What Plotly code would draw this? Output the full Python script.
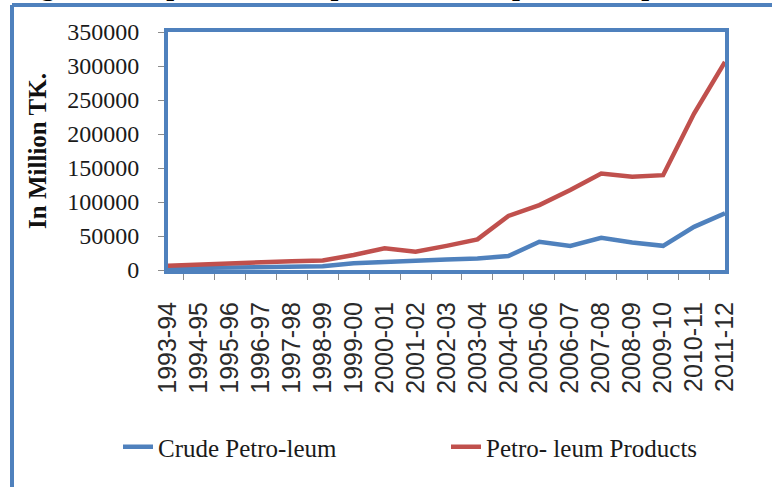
import plotly.graph_objects as go

years = ["1993-94", "1994-95", "1995-96", "1996-97", "1997-98", "1998-99", "1999-00",
         "2000-01", "2001-02", "2002-03", "2003-04", "2004-05", "2005-06", "2006-07",
         "2007-08", "2008-09", "2009-10", "2010-11", "2011-12"]
crude = [2500, 3000, 3500, 4500, 5000, 5500, 10000, 12500, 13500, 15500, 17000, 20500,
         41500, 35500, 47500, 40500, 35500, 63500, 83500]
products = [6300, 8300, 10200, 12200, 13000, 14000, 22000, 32000, 27000, 35500, 45000,
            79500, 95500, 117500, 142000, 137000, 139500, 230000, 306000]
y_ticks = [0, 50000, 100000, 150000, 200000, 250000, 300000, 350000]

W, H = 772, 487
L, R, T, B = 168, 725, 32, 270  # plot area in pixels
BLUE = "#4F81BD"
RED = "#C0504D"

def px(x):
    return (x - L) / (R - L)

def py(y):
    return (B - y) / (B - T)

fig = go.Figure()
fig.add_trace(go.Scatter(x=years, y=crude, mode="lines", name="Crude Petro-leum",
                         line=dict(color=BLUE, width=4.5), legend="legend"))
fig.add_trace(go.Scatter(x=years, y=products, mode="lines", name="Petro- leum Products",
                         line=dict(color=RED, width=4.5), legend="legend2"))

legend_font = dict(family="Liberation Serif", size=25, color="#1a1a1a")
fig.update_layout(
    width=W, height=H,
    margin=dict(l=L, r=W - R, t=T, b=H - B, autoexpand=False),
    paper_bgcolor="white", plot_bgcolor="white",
    showlegend=True,
    legend=dict(x=px(118), xanchor="left", y=py(447), yanchor="middle",
                font=legend_font, bgcolor="rgba(0,0,0,0)"),
    legend2=dict(x=px(446), xanchor="left", y=py(447), yanchor="middle",
                 font=legend_font, bgcolor="rgba(0,0,0,0)"),
    xaxis=dict(type="category", tickangle=-90, tickson="boundaries", ticks="outside",
               tickmode="array", tickvals=years, ticktext=years,
               ticklen=6, tickcolor="#8c8c8c", tickwidth=1,
               showline=True, linecolor=BLUE, linewidth=4, mirror=True, showgrid=False,
               ticklabelstandoff=18,
               tickfont=dict(family="Liberation Sans", size=25, color="#2a2a2a")),
    yaxis=dict(range=[0, 350000], tickvals=y_ticks, ticktext=[str(v) for v in y_ticks],
               ticks="outside", ticklen=6, tickcolor="#8c8c8c", tickwidth=1,
               showline=True, linecolor=BLUE, linewidth=4, mirror=True, showgrid=False,
               zeroline=False, ticklabelstandoff=14,
               tickfont=dict(family="Liberation Serif", size=24, color="#1a1a1a"),
               title=dict(text="<b>In Million TK.</b>", standoff=14,
                          font=dict(family="Liberation Serif", size=25, color="#111"))),
)

# outer figure frame (top and left edges)
fig.add_shape(type="line", xref="paper", yref="paper", x0=px(12), x1=px(W + 5),
              y0=py(5), y1=py(5), line=dict(color=BLUE, width=4), layer="above")
fig.add_shape(type="line", xref="paper", yref="paper", x0=px(12), x1=px(12),
              y0=py(5), y1=py(H + 5), line=dict(color=BLUE, width=4), layer="above")

# caption above the figure, mostly cut off by the page top
fig.add_annotation(text="<b>Figure 5: Import of crude petroleum and petroleum products</b>",
                   xref="paper", yref="paper", x=px(14), y=py(3.5), xanchor="left",
                   yanchor="bottom", showarrow=False,
                   font=dict(family="Liberation Serif", size=28, color="#000"))

fig.write_html("out.html", config={"displayModeBar": False},
               post_script="document.body.style.margin='0';")
